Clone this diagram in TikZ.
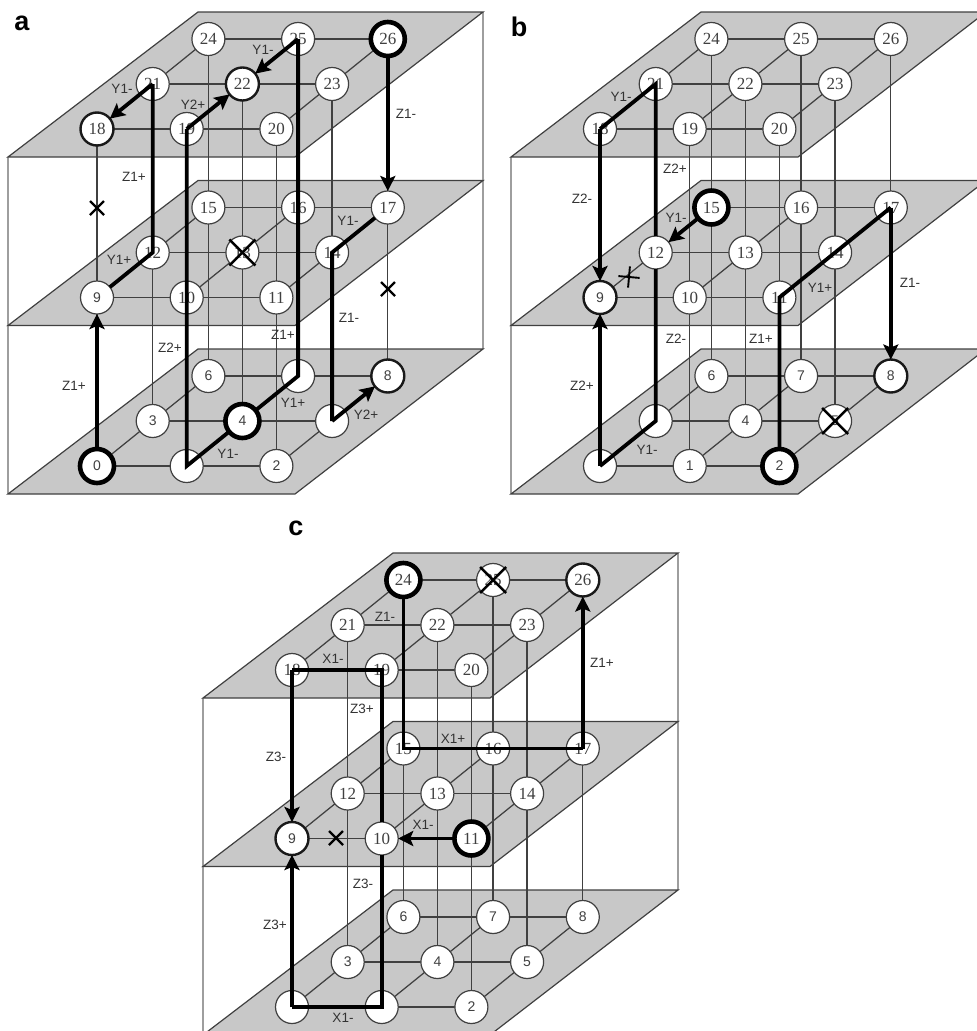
\documentclass[tikz,border=0pt]{standalone}
\usepackage{fontspec}
\setmainfont{Liberation Serif}
\setsansfont{Liberation Sans}
\usetikzlibrary{shapes.misc,arrows.meta}
\pgfdeclarelayer{plates}\pgfdeclarelayer{grid}
\pgfsetlayers{plates,grid,main}
\definecolor{plategray}{gray}{0.785}
\definecolor{thingray}{gray}{0.25}
\definecolor{boxgray}{gray}{0.62}
\definecolor{labgray}{gray}{0.2}
\tikzset{
  platefill/.style={fill=plategray,draw=thingray,line width=1.2pt,line join=miter},
  boxedge/.style={draw=boxgray,line width=1.5pt},
  gridline/.style={draw=thingray,line width=1.25pt},
  vertexthin/.style={circle,draw=thingray,fill=white,line width=1.2pt,minimum size=33pt,inner sep=0pt,outer sep=0pt,text=black!75},
  vertexmid/.style={vertexthin,draw=black!90,line width=2.4pt},
  vertexbig/.style={vertexthin,draw=black,line width=4.6pt,minimum size=34pt},
  route/.style={draw=black,line width=3.8pt,line join=miter,line cap=butt},
  routearrow/.style={route,-{Stealth[length=15pt,width=15pt,inset=3pt]},shorten >=0pt},
  lab/.style={font=\sffamily\fontsize{13.5}{14}\selectfont,text=labgray,inner sep=0pt},
  panelletter/.style={font=\sffamily\bfseries\fontsize{27}{27}\selectfont,inner sep=0pt},
  nodecross/.style={cross out,draw=black,line width=2.6pt,minimum size=26pt,inner sep=0pt,outer sep=0pt},
  edgecross/.style={cross out,draw=black,line width=2.2pt,minimum size=14pt,inner sep=0pt,outer sep=0pt},
}
\makeatletter
\newcommand{\testin}[2]{\edef\@tmpin{\noexpand\in@{,#1,}{,#2,}}\@tmpin}
\newcommand{\cubepanel}[6]{%
  % #1 prefix, #2 dx, #3 dy, #4 blank labels, #5 big nodes, #6 medium nodes
  \begin{pgfonlayer}{plates}
    \begin{scope}
      \clip (0,0) rectangle (977,1031);
      \draw[boxedge] ({#2+8},{#3+157}) -- ({#2+8},{#3+494});
      \draw[boxedge] ({#2+483},{#3+12}) -- ({#2+483},{#3+349});
      \foreach \lv in {0,168.5,337} {
        \path[platefill] ({#2+8},{#3+494-\lv}) -- ({#2+295},{#3+494-\lv}) -- ({#2+483},{#3+349-\lv}) -- ({#2+198},{#3+349-\lv}) -- cycle;
      }
    \end{scope}
  \end{pgfonlayer}
  \foreach \i in {0,...,26} {
    \pgfmathtruncatemacro{\col}{mod(\i,3)}
    \pgfmathtruncatemacro{\row}{mod(int(\i/3),3)}
    \pgfmathtruncatemacro{\lev}{int(\i/9)}
    \pgfmathsetmacro{\px}{#2+97+89.7*\col+55.7*\row}
    \pgfmathsetmacro{\py}{#3+466-45*\row-168.5*\lev}
    \def\vstyle{vertexthin}
    \testin{\i}{#5}\ifin@\def\vstyle{vertexbig}\fi
    \testin{\i}{#6}\ifin@\def\vstyle{vertexmid}\fi
    \testin{\i}{#4}%
    \ifin@\def\vtext{}\else
      \ifnum\i<10 \def\vtext{\sffamily\fontsize{14}{14}\selectfont\i}%
      \else \def\vtext{\rmfamily\fontsize{17}{17}\selectfont\i}\fi
    \fi
    \node[\vstyle] (#1\i) at (\px,\py) {\vtext};
  }
  \begin{pgfonlayer}{grid}
    \foreach \i in {0,...,26} {
      \pgfmathtruncatemacro{\col}{mod(\i,3)}
      \pgfmathtruncatemacro{\row}{mod(int(\i/3),3)}
      \pgfmathtruncatemacro{\lev}{int(\i/9)}
      \pgfmathtruncatemacro{\ia}{\i+1}
      \pgfmathtruncatemacro{\ib}{\i+3}
      \pgfmathtruncatemacro{\ic}{\i+9}
      \ifnum\col<2 \draw[gridline] (#1\i) -- (#1\ia);\fi
      \ifnum\row<2 \draw[gridline] (#1\i) -- (#1\ib);\fi
      \ifnum\lev<2 \draw[gridline] (#1\i) -- (#1\ic);\fi
    }
  \end{pgfonlayer}
}
\makeatother
\newcommand{\lbl}[4]{\node[lab] (#1) at (#2,#3) {#4};}
\begin{document}
\begin{tikzpicture}[x=1pt,y=-1pt]
\useasboundingbox (0,0) rectangle (977,1031);

%% ---------- panel a
\cubepanel{a}{0}{0}{1,5,7}{0,4,26}{8,18,22}
\node[panelletter] (la) at (22,23) {a};
\draw[routearrow] (a0) -- (a9);
\draw[route] (a9) -- (a12.center) -- (a21.center);
\draw[routearrow] (a21.center) -- (a18);
\draw[routearrow] (a26) -- (a17);
\draw[route] (a17) -- (a14.center) -- (a5.center);
\draw[routearrow] (a5.center) -- (a8);
\draw[route] (a4) -- (a7.center) -- (a25.center);
\draw[routearrow] (a25.center) -- (a22);
\draw[route] (a4) -- (a1.center) -- (a19.center);
\draw[routearrow] (a19.center) -- (a22);
\node[nodecross] (ax13) at (a13) {};
\node[edgecross] (ax1) at (97,208) {};
\node[edgecross] (ax2) at (388,289) {};
\lbl{a1}{122}{89}{Y1-}
\lbl{a2}{263}{50}{Y1-}
\lbl{a3}{193}{105}{Y2+}
\lbl{a4}{406}{114}{Z1-}
\lbl{a5}{134}{177}{Z1+}
\lbl{a6}{348}{221}{Y1-}
\lbl{a7}{119}{260}{Y1+}
\lbl{a8}{170}{348}{Z2+}
\lbl{a9}{283}{335}{Z1+}
\lbl{a10}{349}{318}{Z1-}
\lbl{a11}{74}{386}{Z1+}
\lbl{a12}{293}{403}{Y1+}
\lbl{a13}{366}{415}{Y2+}
\lbl{a14}{228}{454}{Y1-}

%% ---------- panel b
\cubepanel{b}{503}{0}{0,3}{2,15}{8,9}
\node[panelletter] (lb) at (519,27) {b};
\draw[routearrow] (b0.center) -- (b9);
\draw[routearrow] (b15) -- (b12);
\draw[route] (b12) -- (b3.center) -- (b0.center);
\draw[route] (b12) -- (b21.center) -- (b18.center);
\draw[routearrow] (b18.center) -- (b9);
\draw[route] (b2) -- (b11.center) -- (b17.center);
\draw[routearrow] (b17.center) -- (b8);
\node[nodecross] (bx5) at (b5) {};
\node[edgecross,rotate=40,line width=1.9pt,minimum size=15pt] (bx1) at (629,277) {};
\lbl{b1}{621}{97}{Y1-}
\lbl{b2}{675}{169}{Z2+}
\lbl{b3}{582}{199}{Z2-}
\lbl{b4}{676}{218}{Y1-}
\lbl{b5}{820}{288}{Y1+}
\lbl{b6}{910}{283}{Z1-}
\lbl{b7}{676}{339}{Z2-}
\lbl{b8}{761}{339}{Z1+}
\lbl{b9}{582}{386}{Z2+}
\lbl{b10}{647}{450}{Y1-}

%% ---------- panel c
\cubepanel{c}{195}{541}{0,1}{11,24}{9,26}
\node[panelletter] (lc) at (296,528) {c};
\draw[routearrow] (c11) -- (c10);
\draw[route] (c10) -- (c1.center) -- (c0.center);
\draw[routearrow] (c0.center) -- (c9);
\draw[route] (c10) -- (c19.center) -- (c18.center);
\draw[routearrow] (c18.center) -- (c9);
\draw[route] (c24) -- (c15.center) -- (c17.center);
\draw[routearrow] (c17.center) -- (c26);
\node[nodecross] (cx25) at (c25) {};
\node[edgecross] (cx1) at (336,838) {};
\lbl{c1}{385}{617}{Z1-}
\lbl{c2}{333}{659}{X1-}
\lbl{c3}{602}{663}{Z1+}
\lbl{c4}{362}{709}{Z3+}
\lbl{c5}{276}{757}{Z3-}
\lbl{c6}{453}{739}{X1+}
\lbl{c7}{423}{825}{X1-}
\lbl{c8}{363}{884}{Z3-}
\lbl{c9}{275}{925}{Z3+}
\lbl{c10}{343}{1018}{X1-}
\end{tikzpicture}
\end{document}
